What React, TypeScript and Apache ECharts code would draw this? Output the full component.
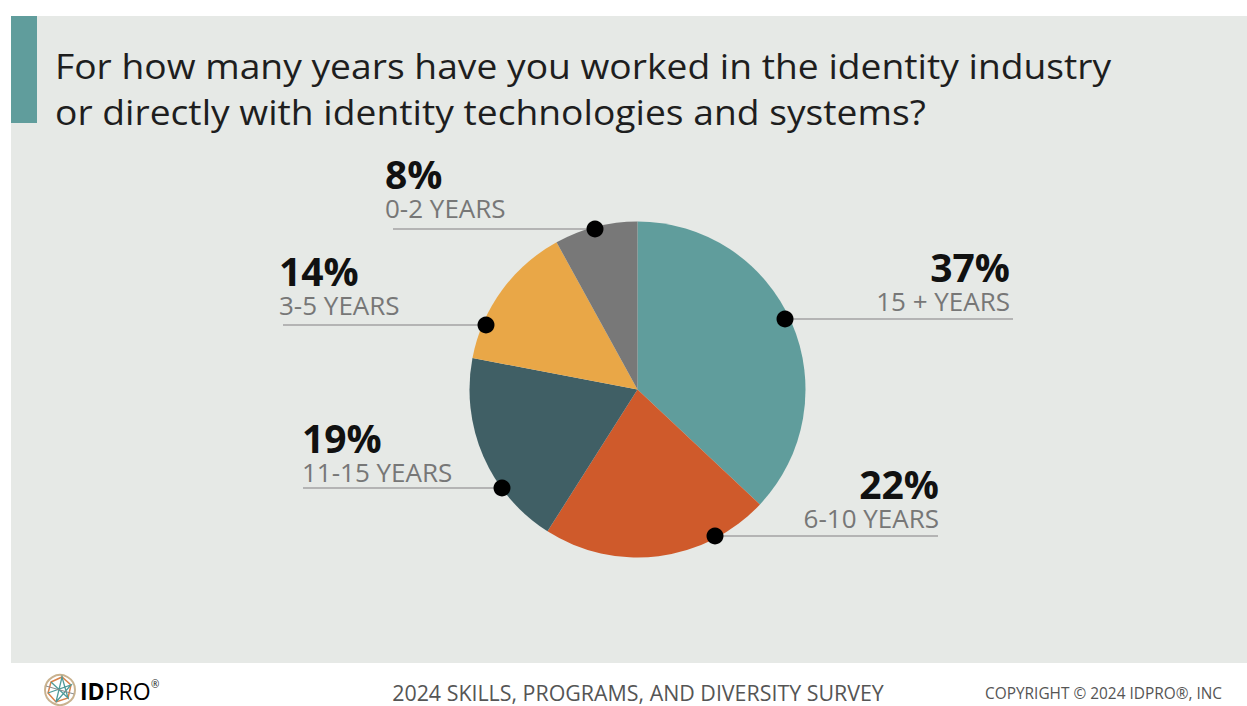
import React, { useEffect, useRef } from "react";
import * as echarts from "echarts";

// ---- data ----
const categories = ["15 + YEARS", "6-10 YEARS", "11-15 YEARS", "3-5 YEARS", "0-2 YEARS"];
const values = [37, 22, 19, 14, 8];
const sliceColors = ["#609d9c", "#cf5a2b", "#405f65", "#e9a747", "#787878"];

const titleText =
  "For how many years have you worked in the identity industry\nor directly with identity technologies and systems?";
const footerText = "2024 SKILLS, PROGRAMS, AND DIVERSITY SURVEY";
const copyrightText = "COPYRIGHT \u00a9 2024 IDPRO\u00ae, INC";

// ---- annotation layout (positions only) ----
const labelAnchors = [
  { dot: [785, 319], lineEnd: 1013, textX: 1010, align: "right", gap: 3 },
  { dot: [715, 536], lineEnd: 938, textX: 939, align: "right", gap: 3 },
  { dot: [502, 488], lineEnd: 303, textX: 302, align: "left", gap: 1 },
  { dot: [486, 325], lineEnd: 283, textX: 279, align: "left", gap: 5 },
  { dot: [595, 229], lineEnd: 393, textX: 385, align: "left", gap: 6 },
];

export default function App() {
  const ref = useRef<HTMLDivElement>(null);
  useEffect(() => {
    if (!ref.current) return;
    const chart = echarts.init(ref.current, undefined, { renderer: "svg" });
    const data = categories.map((name, i) => ({
      name,
      value: values[i],
      itemStyle: { color: sliceColors[i] },
    }));
    const option: any = {
      animation: false,
      backgroundColor: "#ffffff",
      textStyle: { fontFamily: "Open Sans" },
      graphic: [
        {
          type: "rect",
          z: -10,
          shape: { x: 11, y: 16, width: 1236, height: 647 },
          style: { fill: "#e6e9e6" },
          silent: true,
        },
        {
          type: "rect",
          z: -5,
          shape: { x: 11, y: 16, width: 26, height: 107 },
          style: { fill: "#609d9c" },
          silent: true,
        },
        {
          type: "text",
          x: 55,
          y: 43,
          scaleX: 1.095,
          style: {
            text: titleText,
            fontFamily: "Open Sans",
            fontSize: 34,
            lineHeight: 46,
            fill: "#1e1e1e",
            align: "left",
            verticalAlign: "top",
          },
        },
        ...labelAnchors.map((a) => ({
          type: "circle",
          z: 100,
          shape: { cx: a.dot[0], cy: a.dot[1], r: 8.5 },
          style: { fill: "#000000" },
          silent: true,
        })),
        {
          type: "text",
          x: 638,
          y: 692,
          style: {
            text: footerText,
            fontFamily: "Open Sans",
            fontSize: 21.4,
            fill: "#555555",
            align: "center",
            verticalAlign: "middle",
          },
        },
        {
          type: "text",
          x: 1222,
          y: 693,
          style: {
            text: copyrightText,
            fontFamily: "Open Sans",
            fontSize: 15.4,
            fill: "#555555",
            align: "right",
            verticalAlign: "middle",
          },
        },
        // logo
        {
          type: "group",
          x: 60,
          y: 690,
          children: [
            { type: "circle", shape: { cx: 0, cy: 0, r: 15 }, style: { fill: "none", stroke: "#c9b28f", lineWidth: 2 } },
            { type: "polygon", shape: { points: [[-9, -8], [2, -13], [11, -5], [8, 8], [-4, 12], [-12, 3]] }, style: { fill: "none", stroke: "#d9824a", lineWidth: 1.5 } },
            { type: "polyline", shape: { points: [[-9, -8], [8, 8], [2, -13], [-4, 12], [11, -5], [-12, 3]] }, style: { fill: "none", stroke: "#4f9a99", lineWidth: 1.3 } },
            { type: "polyline", shape: { points: [[-14, -4], [0, 0], [14, 4]] }, style: { fill: "none", stroke: "#8a8a8a", lineWidth: 1 } },
          ],
        },
        {
          type: "text",
          x: 80,
          y: 691,
          style: {
            text: "{b|ID}{r|PRO}",
            verticalAlign: "middle",
            rich: {
              b: { fontFamily: "Open Sans", fontWeight: "bold", fontSize: 23, color: "#222", lineHeight: 24 },
              r: { fontFamily: "Open Sans", fontSize: 23, color: "#222", lineHeight: 24 },
            },
          },
        },
        {
          type: "text",
          x: 151,
          y: 684,
          style: {
            text: "\u00ae",
            fontFamily: "Open Sans",
            fontSize: 10,
            fill: "#222",
            verticalAlign: "middle",
          },
        },
      ],
      series: [
        {
          type: "pie",
          center: [637.5, 389.5],
          radius: 168,
          startAngle: 90,
          clockwise: true,
          avoidLabelOverlap: false,
          emphasis: { disabled: true },
          data,
          label: {
            show: true,
            position: "outside",
            formatter: (p: any) => `{p|${p.value}%}\n{n|${p.name}}`,
            rich: {
              p: { fontFamily: "Open Sans", fontWeight: "bold", fontSize: 39, color: "#111111", lineHeight: 40 },
              n: { fontFamily: "Open Sans", fontSize: 26, color: "#777777", lineHeight: 30 },
            },
          },
          labelLine: {
            show: true,
            lineStyle: { color: "#b4b4b4", width: 2 },
          },
          labelLayout: (params: any) => {
            const a = labelAnchors[params.dataIndex];
            return {
              x: a.textX,
              y: a.dot[1] - a.gap,
              align: a.align,
              verticalAlign: "bottom",
              labelLinePoints: [
                [a.dot[0], a.dot[1]],
                [a.lineEnd, a.dot[1]],
                [a.lineEnd, a.dot[1]],
              ],
            };
          },
        },
      ],
    };
    chart.setOption(option);
    return () => chart.dispose();
  }, []);
  return (
    <div
      ref={ref}
      style={{ position: "fixed", left: 0, top: 0, width: 1247, height: 706 }}
    />
  );
}
